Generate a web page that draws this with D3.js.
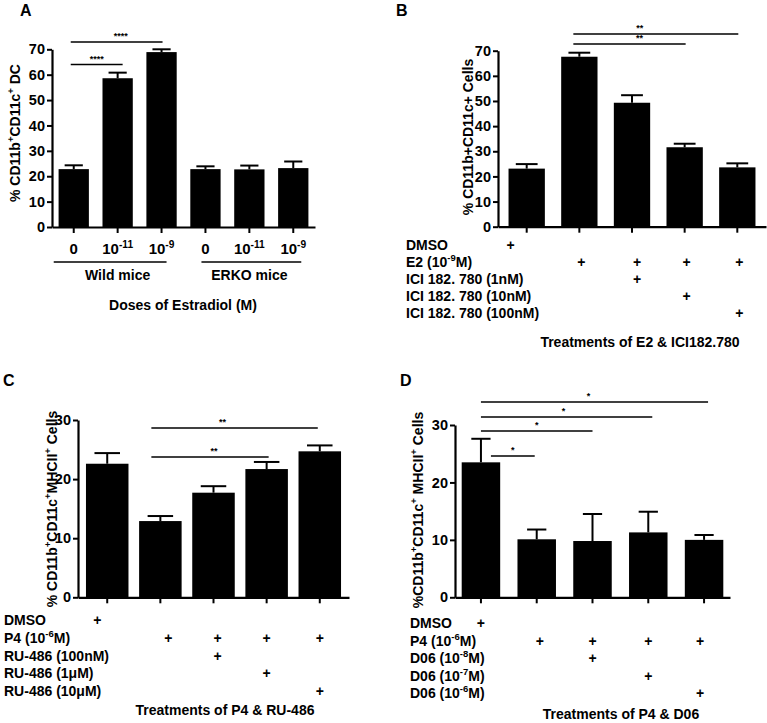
<!DOCTYPE html>
<html><head><meta charset="utf-8">
<script src="https://cdn.jsdelivr.net/npm/d3@7"></script>
<style>
body{margin:0;background:#fff}
svg{display:block;font-family:"Liberation Sans",Arial,sans-serif;font-weight:bold}
</style>
</head><body>
<svg id="chart" width="767" height="723"></svg>
<script>
// ---------- DATA ----------
// Panel A
const aCategories = ["0", "10^{-11}", "10^{-9}", "0", "10^{-11}", "10^{-9}"];
const aValues = [22.8, 58.6, 68.9, 22.8, 22.7, 23.2];
const aErrors = [1.5, 2.2, 1.1, 1.1, 1.5, 2.6];
const aGroups = ["Wild mice", "ERKO mice"];
const aGroupSpans = [[0, 2], [3, 5]];
const aYTicks = [0, 10, 20, 30, 40, 50, 60, 70];
const aSig = [[0, 1, "****"], [0, 2, "****"]];

// Panel B
const bValues = [23.1, 67.6, 49.3, 31.6, 23.6];
const bErrors = [1.8, 1.6, 3.0, 1.4, 1.6];
const bYTicks = [0, 10, 20, 30, 40, 50, 60, 70];
const bRows = ["DMSO", "E2 (10^{-9}M)", "ICI 182. 780 (1nM)", "ICI 182. 780 (10nM)", "ICI 182. 780 (100nM)"];
const bMatrix = [[1,0,0,0,0],[0,1,1,1,1],[0,0,1,0,0],[0,0,0,1,0],[0,0,0,0,1]];
const bSig = [[1, 3, "**"], [1, 4, "**"]];

// Panel C
const cValues = [22.6, 12.9, 17.7, 21.7, 24.7];
const cErrors = [1.8, 0.85, 1.1, 1.2, 1.0];
const cYTicks = [0, 10, 20, 30];
const cRows = ["DMSO", "P4 (10^{-6}M)", "RU-486 (100nM)", "RU-486 (1\u03BCM)", "RU-486 (10\u03BCM)"];
const cMatrix = [[1,0,0,0,0],[0,1,1,1,1],[0,0,1,0,0],[0,0,0,1,0],[0,0,0,0,1]];
const cSig = [[1, 4, "**"], [1, 3, "**"]];

// Panel D
const dValues = [23.5, 10.1, 9.8, 11.3, 10.0];
const dErrors = [4.1, 1.7, 4.7, 3.6, 0.85];
const dYTicks = [0, 10, 20, 30];
const dRows = ["DMSO", "P4 (10^{-6}M)", "D06 (10^{-8}M)", "D06 (10^{-7}M)", "D06 (10^{-6}M)"];
const dMatrix = [[1,0,0,0,0],[0,1,1,1,1],[0,0,1,0,0],[0,0,0,1,0],[0,0,0,0,1]];
const dSig = [[0, 1, "*"], [0, 2, "*"], [0, 3, "*"], [0, 4, "*"]];

// ---------- HELPERS ----------
const svg = d3.select("#chart");

function rich(sel, s, size) {
  const parts = s.split(/\^\{([^}]*)\}/);
  let shift = 0;
  parts.forEach((p, i) => {
    if (!p) return;
    const t = sel.append("tspan").text(p);
    if (i % 2 === 1) {
      t.attr("font-size", size * 0.68).attr("dy", -size * 0.42);
      shift = size * 0.42;
    } else {
      t.attr("font-size", size);
      if (shift) { t.attr("dy", shift); shift = 0; }
    }
  });
  return sel;
}

function text(g, x, y, s, size, anchor, rotate) {
  const t = g.append("text")
    .attr("text-anchor", anchor || "middle")
    .attr("font-size", size)
    .attr("fill", "#000");
  if (rotate) t.attr("transform", `translate(${x},${y}) rotate(-90)`);
  else t.attr("x", x).attr("y", y);
  rich(t, s, size);
  return t;
}

function panel(cfg) {
  const g = svg.append("g");
  const n = cfg.values.length;
  const x = d3.scaleBand().domain(d3.range(n)).range([cfg.x0, cfg.x1])
    .paddingInner(cfg.pi).paddingOuter(cfg.po);
  const y = d3.scaleLinear().domain([0, d3.max(cfg.ticks)]).range([cfg.y0, cfg.yTop]);
  const cx = i => x(i) + x.bandwidth() / 2;

  // bars
  g.selectAll("rect.bar").data(cfg.values).join("rect")
    .attr("x", (d, i) => x(i)).attr("y", d => y(d))
    .attr("width", x.bandwidth()).attr("height", d => y(0) - y(d))
    .attr("fill", "#000");

  // error bars (upper)
  const cw = x.bandwidth() * cfg.cap;
  cfg.values.forEach((v, i) => {
    const top = y(v + cfg.errors[i]);
    g.append("line").attr("x1", cx(i)).attr("x2", cx(i)).attr("y1", y(v)).attr("y2", top)
      .attr("stroke", "#000").attr("stroke-width", 2);
    g.append("line").attr("x1", cx(i) - cw / 2).attr("x2", cx(i) + cw / 2).attr("y1", top).attr("y2", top)
      .attr("stroke", "#000").attr("stroke-width", 2);
  });

  // y axis
  const ya = g.append("g").attr("transform", `translate(${cfg.x0},0)`)
    .call(d3.axisLeft(y).tickValues(cfg.ticks).tickSize(5).tickSizeOuter(0).tickPadding(2));
  ya.select(".domain").attr("stroke-width", 2.2);
  ya.selectAll(".tick line").attr("stroke-width", 2);
  ya.selectAll(".tick text").attr("font-size", 14.5).attr("font-weight", "bold")
    .attr("font-family", '"Liberation Sans",Arial,sans-serif');

  // x axis
  const xa = g.append("g").attr("transform", `translate(0,${cfg.y0})`)
    .call(d3.axisBottom(x).tickSize(6).tickSizeOuter(0).tickFormat(""));
  xa.select(".domain").attr("stroke-width", 2.2);
  xa.selectAll(".tick line").attr("stroke-width", 2);

  // significance
  cfg.sig.forEach((s, k) => {
    const lx0 = cx(s[0]) + cfg.sigDx[k][0];
    const lx1 = cx(s[1]) + cfg.sigDx[k][1];
    const ly = cfg.sigY[k];
    g.append("line").attr("x1", lx0).attr("x2", lx1).attr("y1", ly).attr("y2", ly)
      .attr("stroke", "#000").attr("stroke-width", 1.5);
    g.append("text").attr("x", (lx0 + lx1) / 2 + (cfg.sigTx ? cfg.sigTx[k] : 0)).attr("y", ly - 3)
      .attr("text-anchor", "middle").attr("font-size", 9).text(s[2]);
  });

  // panel letter
  text(g, cfg.letterX, cfg.letterY, cfg.letter, 16, "start");
  // y title
  text(g, cfg.ytX, cfg.ytY, cfg.ytitle, 14, "middle", true);
  // x title
  text(g, cfg.xtX, cfg.xtY, cfg.xtitle, 14, "middle");

  // treatment table
  if (cfg.rows) {
    cfg.rows.forEach((r, ri) => {
      const ry = cfg.rowY0 + ri * cfg.rowDy;
      text(g, cfg.rowX, ry, r, 14, "start");
      cfg.matrix[ri].forEach((m, ci) => {
        if (m) text(g, cx(ci) + cfg.plusDx[ci], ry, "+", 14, "middle");
      });
    });
  }
  return { g, x, y, cx };
}

// ---------- PANELS ----------
const A = panel({
  values: aValues, errors: aErrors, ticks: aYTicks, sig: aSig,
  x0: 52, x1: 315, y0: 227, yTop: 49.3, pi: 0.31, po: 0.15, cap: 0.6,
  sigY: [64.5, 42], sigDx: [[-3, 5], [-3, 1]], sigTx: [0, 4],
  letter: "A", letterX: 20, letterY: 16,
  ytitle: "% CD11b^{+}CD11c^{+} DC", ytX: 20, ytY: 133,
  xtitle: "Doses of Estradiol (M)", xtX: 183, xtY: 310
});
aCategories.forEach((c, i) => text(A.g, A.cx(i), 254, c, 15, "middle"));
const groupDx = [[-20, 5], [-4, 8]];
aGroups.forEach((gname, k) => {
  const s = aGroupSpans[k];
  A.g.append("line").attr("x1", A.cx(s[0]) + groupDx[k][0]).attr("x2", A.cx(s[1]) + groupDx[k][1])
    .attr("y1", 262).attr("y2", 262).attr("stroke", "#000").attr("stroke-width", 1.5);
  text(A.g, A.cx((s[0] + s[1]) / 2 | 0), 280, gname, 14, "middle");
});

panel({
  values: bValues, errors: bErrors, ticks: bYTicks, sig: bSig,
  x0: 498, x1: 766, y0: 226.7, yTop: 50.7, pi: 0.31, po: 0.2, cap: 0.6,
  sigY: [44, 34], sigDx: [[-6, 1], [-6, 1]], sigTx: [10, -16],
  letter: "B", letterX: 396, letterY: 16,
  ytitle: "% CD11b+CD11c+ Cells", ytX: 473, ytY: 137,
  xtitle: "Treatments of E2 & ICI182.780", xtX: 640, xtY: 347,
  rows: bRows, matrix: bMatrix, rowX: 406, rowY0: 250, rowDy: 17, plusDx: [-16, 2, 5, 2, 2]
});

panel({
  values: cValues, errors: cErrors, ticks: cYTicks, sig: cSig,
  x0: 78, x1: 349, y0: 597.3, yTop: 420, pi: 0.2, po: 0.15, cap: 0.6,
  sigY: [428, 457], sigDx: [[-9, -2], [-9, 2]], sigTx: [-12, 4],
  letter: "C", letterX: 3, letterY: 386,
  ytitle: "% CD11b^{+}CD11c^{+}MHCII^{+} Cells", ytX: 57, ytY: 509,
  xtitle: "Treatments of P4 & RU-486", xtX: 225, xtY: 715,
  rows: cRows, matrix: cMatrix, rowX: 4, rowY0: 625, rowDy: 17.8, plusDx: [-10, 8, 4, 0, 0]
});

panel({
  values: dValues, errors: dErrors, ticks: dYTicks, sig: dSig,
  x0: 455, x1: 730, y0: 597.3, yTop: 425, pi: 0.31, po: 0.12, cap: 0.5,
  sigY: [456, 431, 417, 402], sigDx: [[10, -2], [0, 0], [0, 4], [0, 4]], sigTx: [0, 0, -3, -6],
  letter: "D", letterX: 400, letterY: 386,
  ytitle: "%CD11b^{+}CD11c^{+} MHCII^{+} Cells", ytX: 423, ytY: 510,
  xtitle: "Treatments of P4 & D06", xtX: 621, xtY: 719,
  rows: dRows, matrix: dMatrix, rowX: 410, rowY0: 628, rowDy: 17.5, plusDx: [0, 3, 0, 0, -4]
});
</script>
</body></html>
